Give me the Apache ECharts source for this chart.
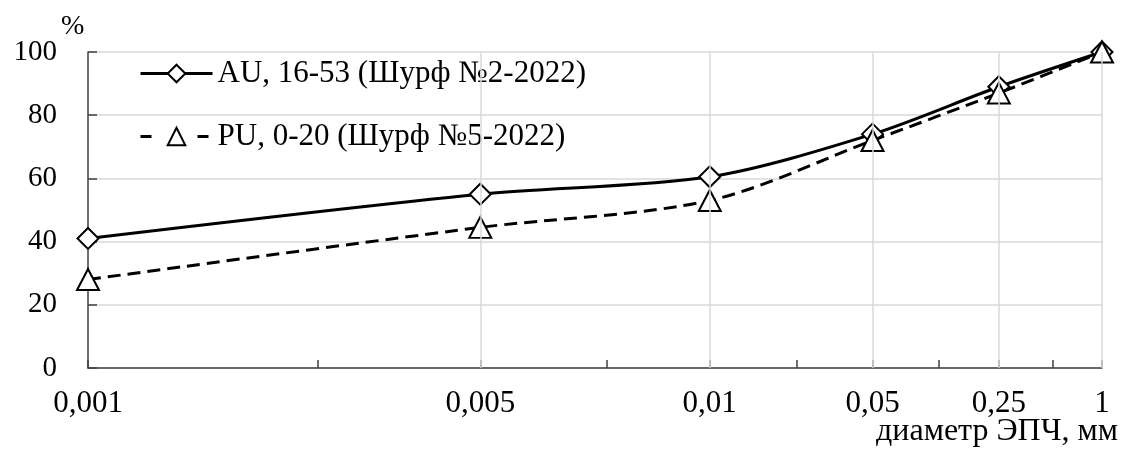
<!DOCTYPE html>
<html>
<head>
<meta charset="utf-8">
<script src="https://cdn.jsdelivr.net/npm/echarts@6/dist/echarts.min.js"></script>
<style>
html,body{margin:0;padding:0;background:#fff;}
#chart{width:1121px;height:455px;}
</style>
</head>
<body>
<div id="chart"></div>
<script>
// Category labels (particle diameter, mm) and the ordinal step on the axis where each sits
const diameters = ['0,001', '0,005', '0,01', '0,05', '0,25', '1'];
const axisSteps = [2, 4, 6, 8, 10, 12];
const tickSteps = [2, 3, 4, 5, 6, 7, 8, 9, 10, 11, 12];

// Series values, %
const seriesNames = ['AU, 16-53 (Шурф №2-2022)', 'PU, 0-20 (Шурф №5-2022)'];
const auValues = [41, 55, 60.5, 74, 89, 100];
const puValues = [28, 44.5, 53, 72, 87, 100];

// Y axis ticks
const yMin = 0, yMax = 100, yStep = 20;

const FONT = 'Liberation Serif';
const AXIS_COLOR = '#404040';
const GRID_COLOR = '#d9d9d9';

const chart = echarts.init(document.getElementById('chart'), null, {renderer: 'canvas'});

const pairs = vals => vals.map((v, i) => [axisSteps[i], v]);

chart.setOption({
  animation: false,
  backgroundColor: '#ffffff',
  grid: {left: 88, right: 19, top: 52, bottom: 87, containLabel: false},
  legend: {
    orient: 'vertical',
    left: 134,
    top: 53,
    itemWidth: 72,
    itemHeight: 22,
    itemGap: 32,
    data: [
      {name: seriesNames[0], lineStyle: {width: 3, type: 'solid'}},
      {name: seriesNames[1], lineStyle: {width: 3, type: [11, 46]}}
    ],
    lineStyle: {width: 3},
    textStyle: {fontFamily: FONT, fontSize: 31, color: '#000'}
  },
  graphic: [
    {type: 'text', left: 61, top: 13, style: {text: '%', fontFamily: FONT, fontSize: 28, fill: '#000'}},
    {type: 'text', right: 3, top: 416, style: {text: 'диаметр ЭПЧ, мм', fontFamily: FONT, fontSize: 32, fill: '#000'}}
  ],
  xAxis: {
    type: 'log',
    logBase: 10,
    min: axisSteps[0],
    max: axisSteps[axisSteps.length - 1],
    axisLine: {show: true, lineStyle: {color: AXIS_COLOR, width: 1.5}},
    axisTick: {show: true, inside: true, length: 8, lineStyle: {color: AXIS_COLOR, width: 1.5}, customValues: tickSteps},
    axisLabel: {
      customValues: axisSteps,
      margin: 20,
      fontFamily: FONT, fontSize: 31, color: '#000',
      formatter: v => {
        const i = axisSteps.findIndex(s => Math.abs(s - v) < 1e-6);
        return i >= 0 ? diameters[i] : '';
      }
    },
    splitLine: {show: false},
    minorTick: {show: false}
  },
  yAxis: {
    type: 'value',
    min: yMin, max: yMax, interval: yStep,
    axisLine: {show: true, lineStyle: {color: AXIS_COLOR, width: 1.5}},
    axisTick: {show: true, inside: true, length: 9, lineStyle: {color: AXIS_COLOR, width: 1.5}},
    axisLabel: {margin: 31, fontFamily: FONT, fontSize: 29, color: '#000'},
    splitLine: {show: true, lineStyle: {color: GRID_COLOR, width: 1.5}}
  },
  series: [
    {
      name: 'grid-v',
      type: 'line',
      data: [],
      z: 1,
      silent: true,
      markLine: {
        silent: true,
        symbol: 'none',
        label: {show: false},
        lineStyle: {color: GRID_COLOR, type: 'solid', width: 1.5},
        data: axisSteps.slice(1).map(v => ({xAxis: v}))
      }
    },
    {
      name: seriesNames[0],
      type: 'line',
      data: pairs(auValues),
      smooth: 0.3,
      clip: false,
      z: 3,
      symbol: 'diamond',
      symbolSize: [21, 21],
      showAllSymbol: true,
      lineStyle: {color: '#000', width: 3, type: 'solid'},
      itemStyle: {color: '#fff', borderColor: '#000', borderWidth: 2}
    },
    {
      name: seriesNames[1],
      type: 'line',
      data: pairs(puValues),
      smooth: 0.3,
      clip: false,
      z: 4,
      symbol: 'triangle',
      symbolSize: [22, 21],
      showAllSymbol: true,
      lineStyle: {color: '#000', width: 3, type: [13, 7]},
      itemStyle: {color: '#fff', borderColor: '#000', borderWidth: 2}
    }
  ]
});
</script>
</body>
</html>
